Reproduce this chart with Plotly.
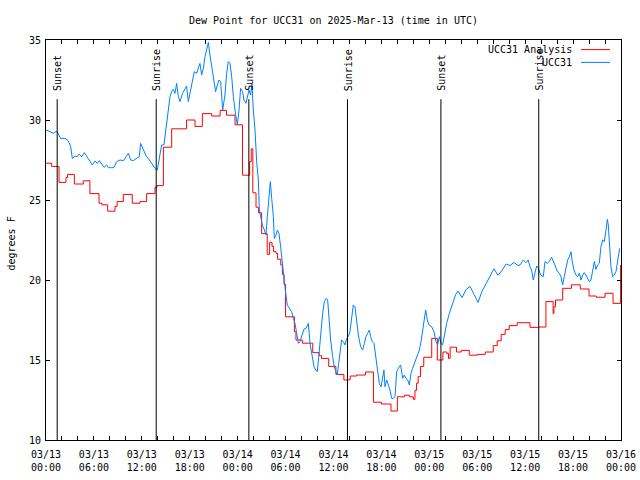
import plotly.graph_objects as go

# Hours since 2025-03-13 00:00 UTC
analysis_hours = [0.0, 0.7, 1.63, 2.5, 2.7, 3.55, 4.67, 5.5, 6.64, 7.0, 7.72, 8.64, 8.9, 9.68, 10.8,
                  11.77, 12.6, 13.65, 13.9, 14.7, 15.74, 17.6, 18.66, 19.58, 20.75, 21.8, 22.6, 23.67,
                  24.6, 25.5, 25.7, 25.9, 26.3, 26.6, 27.0, 27.7, 28.0, 28.3, 28.5, 28.8, 29.0, 29.4,
                  29.6, 29.8, 30.0, 31.1, 31.3, 32.1, 33.4, 34.2, 34.5, 35.4, 36.3, 37.3, 38.0, 38.1,
                  38.9, 40.0, 41.0, 42.0, 43.2, 44.0, 44.9, 45.5, 46.0, 46.2, 46.4, 46.6, 46.9, 47.3,
                  48.3, 49.0, 49.7, 50.2, 50.4, 50.6, 51.4, 52.0, 53.0, 54.0, 55.0, 56.0, 56.5, 57.0,
                  57.5, 58.0, 59.0, 60.6, 61.6, 62.6, 63.5, 63.6, 63.8, 64.7, 65.8, 66.9, 68.0, 68.9,
                  70.0, 71.0, 71.95]
analysis_values = [27.3, 27.1, 26.1, 26.4, 26.6, 26.0, 26.2, 25.4, 24.8, 24.7, 24.3, 24.6, 24.9, 25.35, 24.8,
                   24.9, 25.4, 25.8, 25.9, 28.3, 29.45, 30.0, 29.6, 30.4, 30.25, 30.6, 30.3, 29.7,
                   26.55, 27.4, 28.2, 25.45, 24.55, 24.2, 22.9, 21.6, 22.35, 22.1, 21.77, 21.67, 21.3, 20.94,
                   20.35, 19.73, 17.7, 16.77, 16.25, 16.05, 15.46, 15.27, 15.1, 14.6, 14.1, 13.75, 13.8, 14.0,
                   14.06, 14.25, 12.36, 12.25, 11.81, 12.7, 12.8, 12.7, 12.54, 13.1, 13.55, 13.96, 14.6, 15.17,
                   16.35, 15.0, 15.5, 15.4, 15.1, 15.8, 15.5, 15.6, 15.3, 15.35, 15.5, 15.9, 16.2, 16.6,
                   16.9, 17.15, 17.33, 17.04, 17.06, 18.65, 17.9, 18.33, 18.75, 19.48, 19.7, 19.44, 19.0, 18.92,
                   19.17, 18.54, 20.94]

obs_hours = [0.0, 0.08, 0.5, 0.92, 1.34, 1.84, 2.4, 2.8, 3.09, 3.3, 3.63, 3.9, 4.17, 4.47, 4.8, 5.09,
             5.43, 5.8, 6.14, 6.43, 6.68, 6.97, 7.26, 7.6, 7.8, 8.22, 8.5, 8.85, 9.27, 9.7, 10.0, 10.31,
             10.6, 10.93, 11.35, 11.68, 11.85, 12.19, 12.52, 12.81, 13.23, 13.65, 13.94, 14.19, 14.48,
             14.77, 15.03, 15.32, 15.53, 15.73, 15.94, 16.15, 16.36, 16.57, 16.78, 17.11, 17.4, 17.61,
             17.82, 18.03, 18.36, 18.57, 18.86, 19.07, 19.28, 19.49, 19.7, 19.91, 20.12, 20.33, 20.53,
             20.74, 20.95, 21.24, 21.45, 21.66, 21.87, 22.12, 22.41, 22.62, 22.83, 23.04, 23.25, 23.46,
             23.75, 23.96, 24.17, 24.37, 24.62, 24.79, 25.04, 25.2, 25.42, 25.63, 25.79, 25.96, 26.17,
             26.38, 26.59, 26.71, 26.88, 27.09, 27.34, 27.55, 27.71, 27.92, 28.09, 28.26, 28.47, 28.59,
             28.8, 28.97, 29.17, 29.38, 29.59, 29.8, 30.01, 30.22, 30.47, 30.76, 30.97, 31.18, 31.39,
             31.6, 31.8, 32.01, 32.3, 32.55, 32.85, 33.06, 33.27, 33.56, 33.77, 33.97, 34.23, 34.4,
             34.64, 34.85, 35.1, 35.27, 35.44, 35.64, 35.9, 36.1, 36.31, 36.48, 36.65, 36.81, 37.02,
             37.23, 37.44, 37.65, 37.85, 38.06, 38.27, 38.48, 38.69, 38.9, 39.11, 39.4, 39.65, 39.86,
             40.07, 40.28, 40.49, 40.65, 40.86, 41.07, 41.32, 41.53, 41.74, 41.95, 42.16, 42.32, 42.45,
             42.66, 42.87, 43.07, 43.28, 43.49, 43.7, 43.91, 44.12, 44.41, 44.66, 44.87, 45.08, 45.29,
             45.5, 45.7, 45.91, 46.12, 46.33, 46.54, 46.75, 46.96, 47.16, 47.37, 47.54, 47.75, 47.96,
             48.29, 48.58, 48.83, 49.04, 49.25, 49.46, 49.67, 49.88, 50.17, 50.5, 51.0, 51.3, 51.6,
             52.1, 52.6, 53.1, 53.6, 54.1, 54.6, 55.1, 55.6, 56.1, 56.6, 57.1, 57.6, 58.1, 58.6, 59.1,
             59.35, 59.77, 60.1, 60.39, 60.6, 60.8, 61.02, 61.23, 61.44, 61.65, 61.94, 62.27, 62.48,
             62.77, 63.0, 63.31, 63.52, 63.73, 63.94, 64.27, 64.48, 64.69, 64.9, 65.11, 65.32, 65.53,
             65.74, 65.9, 66.11, 66.36, 66.57, 66.78, 66.99, 67.2, 67.4, 67.61, 67.82, 68.03, 68.24,
             68.45, 68.66, 68.87, 69.07, 69.28, 69.49, 69.7, 69.91, 70.12, 70.29, 70.41, 70.62, 70.74,
             70.95, 71.16, 71.37, 71.54, 71.7, 71.83]
obs_values = [29.3, 29.375, 29.27, 29.17, 29.3, 28.85, 28.85, 28.7, 28.33, 27.6, 27.75, 27.7, 27.87, 27.7,
              27.96, 27.75, 27.5, 27.19, 27.44, 27.29, 27.46, 27.25, 27.04, 27.19, 27.02, 27.02, 27.02,
              27.4, 27.5, 27.46, 27.71, 27.92, 27.5, 27.46, 27.6, 27.71, 28.54, 28.125, 27.77, 27.6,
              27.29, 26.98, 26.875, 27.5, 28.44, 28.44, 29.375, 30.42, 31.46, 31.77, 31.92, 31.67, 32.29,
              31.46, 31.15, 31.67, 31.92, 32.125, 31.15, 31.67, 32.4, 33.02, 32.92, 33.23, 33.54, 32.81,
              33.23, 33.96, 34.48, 34.85, 34.06, 33.33, 32.71, 31.77, 32.19, 32.5, 32.4, 30.625, 31.56,
              32.92, 33.65, 33.54, 32.71, 31.46, 30.3, 29.69, 30.625, 31.98, 31.77, 31.25, 31.04, 31.46,
              31.875, 31.56, 32.29, 30.625, 29.375, 27.4, 26.25, 24.375, 23.85, 23.44, 23.125, 22.81,
              23.96, 25.42, 26.15, 25.1, 23.96, 22.6, 22.81, 23.125, 22.92, 22.08, 20.94, 20.0, 19.17,
              18.44, 18.23, 18.02, 17.6, 17.29, 16.67, 16.04, 16.15, 16.46, 16.92, 16.98, 17.29, 16.04,
              15.42, 14.58, 14.375, 14.27, 15.625, 16.77, 17.9, 18.65, 18.85, 18.75, 17.6, 16.25, 15.2,
              14.58, 14.27, 14.06, 14.79, 15.42, 16.25, 16.15, 15.94, 16.35, 16.46, 16.77, 17.5, 18.44,
              18.33, 17.29, 16.56, 15.83, 15.625, 16.04, 16.46, 16.67, 16.875, 16.46, 16.15, 16.04, 15.2,
              14.27, 13.54, 13.33, 13.96, 14.375, 13.33, 13.75, 13.44, 13.125, 12.6, 12.6, 12.7, 14.27,
              14.48, 14.69, 13.85, 14.06, 13.85, 13.75, 13.44, 14.17, 14.48, 14.79, 15.1, 15.42, 15.625,
              16.15, 16.77, 17.71, 18.125, 17.5, 17.19, 17.08, 16.77, 16.15, 15.94, 16.46, 16.04, 15.94,
              16.56, 17.29, 17.9, 18.6, 19.1, 19.3, 18.9, 19.4, 19.6, 19.1, 18.6, 19.3, 19.8, 20.3, 20.7,
              20.3, 20.6, 21.0, 20.9, 21.1, 20.9, 20.94, 21.25, 21.08, 21.25, 20.83, 20.625, 20.0, 20.52,
              20.875, 20.73, 20.31, 20.21, 21.15, 21.04, 21.15, 21.42, 21.21, 20.94, 20.625, 20.42, 20.21,
              19.69, 20.21, 20.83, 21.25, 21.46, 21.77, 21.15, 20.625, 20.31, 20.21, 20.42, 20.0, 20.31,
              20.46, 20.31, 20.1, 19.9, 20.0, 20.73, 21.15, 20.67, 20.94, 21.04, 22.08, 22.5, 22.4,
              23.125, 23.79, 23.44, 22.08, 20.83, 20.21, 20.31, 20.52, 21.15, 21.77, 21.98]

sun_events = ["Sunset", "Sunrise", "Sunset", "Sunrise", "Sunset", "Sunrise"]
sun_hours = [1.4, 13.8, 25.4, 37.75, 49.45, 61.7]

tick_hours = list(range(0, 73, 2))
tick_labels = ["03/13<br>00:00", "03/13<br>06:00", "03/13<br>12:00", "03/13<br>18:00",
               "03/14<br>00:00", "03/14<br>06:00", "03/14<br>12:00", "03/14<br>18:00",
               "03/15<br>00:00", "03/15<br>06:00", "03/15<br>12:00", "03/15<br>18:00",
               "03/16<br>00:00"]
tick_text = [tick_labels[h // 6] if h % 6 == 0 else "" for h in tick_hours]

FONT = "DejaVu Sans Mono"
RED = "#ff0000"
BLUE = "#0080ff"

fig = go.Figure()
fig.add_trace(go.Scatter(x=analysis_hours, y=analysis_values, mode="lines", name="UCC31 Analysis",
                         line=dict(color=RED, width=1, shape="hv")))
fig.add_trace(go.Scatter(x=obs_hours, y=obs_values, mode="lines", name="UCC31",
                         line=dict(color=BLUE, width=1)))

shapes = []
annotations = []
for name, h in zip(sun_events, sun_hours):
    shapes.append(dict(type="line", xref="x", yref="y", x0=h, x1=h, y0=10, y1=31.3,
                       line=dict(color="black", width=1)))
    annotations.append(dict(x=h, y=31.7, xref="x", yref="y", text=name, textangle=-90,
                            showarrow=False, xanchor="center", yanchor="bottom", xshift=1,
                            font=dict(family=FONT, size=10, color="black")))

# legend (gnuplot style: text right-aligned, sample to the right)
leg_rows = [("UCC31 Analysis", RED, 0.976), ("UCC31", BLUE, 0.944)]
for text, col, yp in leg_rows:
    annotations.append(dict(x=0.9183, y=yp, xref="paper", yref="paper", text=text, showarrow=False,
                            xanchor="right", yanchor="middle",
                            font=dict(family=FONT, size=10, color="black")))
    shapes.append(dict(type="line", xref="paper", yref="paper", x0=0.9304, x1=0.9809, y0=yp, y1=yp,
                       line=dict(color=col, width=1)))

# y-axis title as annotation
annotations.append(dict(x=(10.5 - 46) / 575, y=(440 - 244) / 400, xref="paper", yref="paper",
                        text="degrees F", textangle=-90, showarrow=False, xanchor="center",
                        yanchor="middle", font=dict(family=FONT, size=10, color="black")))

fig.update_layout(
    width=640, height=480,
    margin=dict(l=46, r=19, t=40, b=40, autoexpand=False),
    paper_bgcolor="white", plot_bgcolor="white",
    showlegend=False,
    title=dict(text="Dew Point for UCC31 on 2025-Mar-13 (time in UTC)", x=333.5 / 640,
               xanchor="center", y=1 - 20 / 480, yanchor="middle", automargin=False,
               font=dict(family=FONT, size=10, color="black")),
    font=dict(family=FONT, size=10, color="black"),
    shapes=shapes, annotations=annotations,
    xaxis=dict(range=[0, 72], tickmode="array", tickvals=tick_hours, ticktext=tick_text,
               ticks="inside", ticklen=4, tickcolor="black", showgrid=False, zeroline=False,
               showline=True, linecolor="black", linewidth=1, mirror="ticks", automargin=False,
               ticklabelstandoff=5,
               tickfont=dict(family=FONT, size=10, color="black")),
    yaxis=dict(range=[10, 35], tickvals=[10, 15, 20, 25, 30, 35], ticks="inside", ticklen=4,
               tickcolor="black", showgrid=False, zeroline=False, showline=True, linecolor="black",
               linewidth=1, mirror="ticks", automargin=False, ticklabelstandoff=2,
               tickfont=dict(family=FONT, size=10, color="black")),
)

fig.write_html("out.html", config={"displayModeBar": False},
               post_script="document.body.style.margin='0';document.body.style.overflow='hidden';")
